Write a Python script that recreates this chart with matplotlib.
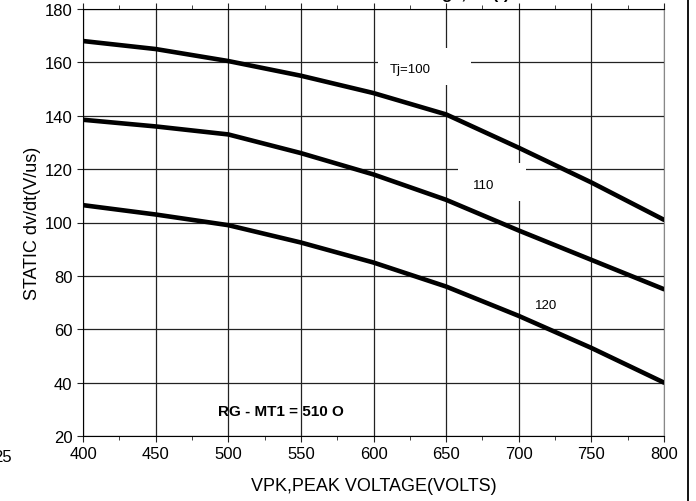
import matplotlib
matplotlib.use("Agg")
import matplotlib.pyplot as plt
from matplotlib.patches import Rectangle
from matplotlib.ticker import MultipleLocator

plt.rcParams['font.family'] = ['Liberation Sans', 'DejaVu Sans']

# data
vpk = [400, 450, 500, 550, 600, 650, 700, 750, 800]
dvdt_100 = [168, 165, 160.5, 155, 148.5, 140.5, 128, 115, 101]
dvdt_110 = [138.5, 136, 133, 126, 118, 108.5, 97, 86, 75]
dvdt_120 = [106.5, 103, 99, 92.5, 85, 76, 65, 53, 40]
curve_labels = ['Tj=100', '110', '120']

fig = plt.figure(figsize=(6.96, 5.02), dpi=100)
ax = fig.add_axes([83/696, 1 - 437/502, (664 - 83)/696, (437 - 10)/502])

ax.set_xlim(400, 800)
ax.set_ylim(20, 180)
ax.xaxis.set_major_locator(MultipleLocator(50))
ax.xaxis.set_minor_locator(MultipleLocator(25))
ax.yaxis.set_major_locator(MultipleLocator(20))
ax.grid(True, which='major', color='#222222', lw=0.9)
ax.set_axisbelow(True)
ax.tick_params(which='both', direction='out', length=4, labelsize=12, color='#222222')
ax.tick_params(which='minor', length=3)
ax.tick_params(axis='x', which='both', top=True)
ax.spines['right'].set_color('#888888')

# white boxes hiding the grid behind the curve labels
ax.add_patch(Rectangle((603, 151.5), 64, 14, facecolor='white', edgecolor='none', zorder=1.5))
ax.add_patch(Rectangle((658, 108.2), 47, 14, facecolor='white', edgecolor='none', zorder=1.5))

for ys in (dvdt_100, dvdt_110, dvdt_120):
    ax.plot(vpk, ys, color='black', lw=3.3, solid_capstyle='round', zorder=3)

ax.text(625, 157.5, curve_labels[0], fontsize=9.5, ha='center', va='center', zorder=4)
ax.text(676, 114.2, curve_labels[1], fontsize=9.5, ha='center', va='center', zorder=4)
ax.text(719, 69, curve_labels[2], fontsize=9.5, ha='center', va='center', zorder=4)
ax.text(536, 29.4, 'RG - MT1 = 510 O', fontsize=11, fontweight='bold', ha='center', va='center')

ax.set_xlabel('VPK,PEAK VOLTAGE(VOLTS)', fontsize=13, labelpad=11)
ax.set_ylabel('STATIC dv/dt(V/us)', fontsize=13, labelpad=3)

# cut-off page text and border
fig.text(510/696, 1 + 1/502, 'Static dv/dt vs Peak Voltage, TC(t)', fontsize=12,
         fontweight='bold', ha='right', va='baseline')
fig.text(12/696, 1 - 458/502, '25', fontsize=12, ha='right', va='center')
fig.add_artist(plt.Line2D([688/696, 688/696], [0, 1], color='black', lw=1.3))

fig.savefig('out.png', dpi=100)
